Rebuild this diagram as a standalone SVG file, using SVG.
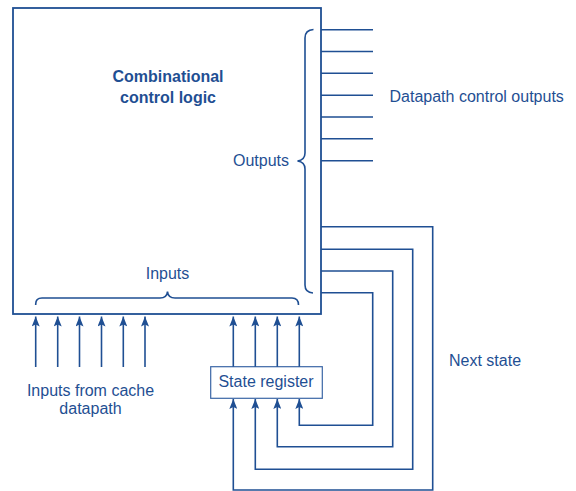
<svg xmlns="http://www.w3.org/2000/svg" width="576" height="491" viewBox="0 0 576 491">
<defs>
<style>
.ln{fill:none;stroke:#1f4f93;stroke-width:1.6}
.box{fill:#fff;stroke:#1f4f93;stroke-width:1.8}
.reg{fill:#fff;stroke:#3b66a6;stroke-width:1.2}
.t{font-family:"Liberation Sans",Arial,sans-serif;font-size:16px;fill:#1f4f93}
.b{font-weight:bold}
</style>
<marker id="ah" viewBox="0 0 10 8" refX="10" refY="4" markerWidth="10" markerHeight="8" markerUnits="userSpaceOnUse" orient="auto">
<path d="M0,0 L10,4 L0,8 L2,4 z" fill="#1f4f93"/>
</marker>
</defs>
<g id="control-logic">
<rect class="box" x="13" y="8" width="308" height="306"/>
<text class="t b" x="168" y="82" text-anchor="middle">Combinational</text>
<text class="t b" x="168" y="103" text-anchor="middle">control logic</text>
<text class="t" x="261" y="166" text-anchor="middle">Outputs</text>
<text class="t" x="167.5" y="279" text-anchor="middle">Inputs</text>
<path class="ln" d="M313.5,29.5 Q305,30 305,38 V153 Q305,160 297.5,161 Q305,162 305,169 V285 Q305,292.5 313,293"/>
<path class="ln" d="M35.7,305 V304 Q35.7,298 42,298 H160 Q167,298 167.5,291.5 Q168,298 175,298 H292 Q298.5,298 298.5,305"/>
</g>
<g id="state-register">
<rect class="reg" x="210.7" y="366.7" width="111.6" height="31.6"/>
<text class="t" x="266" y="387" text-anchor="middle">State register</text>
</g>
<g id="labels">
<text class="t" x="389.5" y="102">Datapath control outputs</text>
<text class="t" x="449" y="366">Next state</text>
<text class="t" x="90.5" y="396" text-anchor="middle">Inputs from cache</text>
<text class="t" x="90.5" y="414" text-anchor="middle">datapath</text>
</g>
<g id="connectors">
<path class="ln" d="M321,29.7H373M321,51.5H373M321,73.3H373M321,95.2H373M321,117H373M321,138.8H373M321,160.7H373"/>
<path class="ln" marker-end="url(#ah)" d="M35.7,367V316.5"/>
<path class="ln" marker-end="url(#ah)" d="M57.7,367V316.5"/>
<path class="ln" marker-end="url(#ah)" d="M79.5,367V316.5"/>
<path class="ln" marker-end="url(#ah)" d="M101.5,367V316.5"/>
<path class="ln" marker-end="url(#ah)" d="M123.3,367V316.5"/>
<path class="ln" marker-end="url(#ah)" d="M145,367V316.5"/>
<path class="ln" marker-end="url(#ah)" d="M233.3,366.7V316.5"/>
<path class="ln" marker-end="url(#ah)" d="M255.3,366.7V316.5"/>
<path class="ln" marker-end="url(#ah)" d="M277.3,366.7V316.5"/>
<path class="ln" marker-end="url(#ah)" d="M299.3,366.7V316.5"/>
<path class="ln" marker-end="url(#ah)" d="M321,226.7H432.7V490H233.3V399"/>
<path class="ln" marker-end="url(#ah)" d="M321,249.3H412.7V469.3H255.3V399"/>
<path class="ln" marker-end="url(#ah)" d="M321,271H392.7V446.7H277.3V399"/>
<path class="ln" marker-end="url(#ah)" d="M321,292.7H372.7V425.3H299.3V399"/>
</g>
</svg>
